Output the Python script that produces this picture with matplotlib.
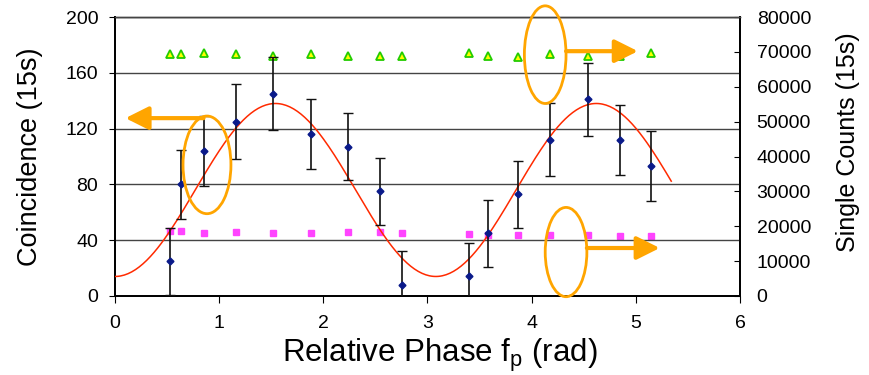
import numpy as np
import matplotlib.pyplot as plt
from matplotlib.patches import Ellipse

plt.rcParams['font.family'] = ['Liberation Sans', 'DejaVu Sans']

# Coincidence counts (left axis)
phase = [0.53, 0.63, 0.85, 1.16, 1.52, 1.88, 2.24, 2.54, 2.76,
         3.40, 3.58, 3.87, 4.18, 4.54, 4.85, 5.15]
coinc = [25, 80, 104, 125, 145, 116, 107, 75, 8,
         14, 45, 73, 112, 141, 112, 93]
coinc_err = [24, 25, 25, 27, 26, 25, 24, 24, 24,
             24, 24, 24, 26, 26, 25, 25]

# Single counts (right axis)
singles_a = [69400, 69400, 69800, 69400, 68900, 69400, 68900, 68900, 68900,
             69800, 68900, 68500, 69400, 68900, 68900, 69800]
singles_b = [18500, 18500, 18000, 18400, 18200, 18200, 18400, 18400, 18100,
             17700, 17500, 17400, 17400, 17400, 17300, 17300]

# fitted cosine: offset, amplitude, period (rad), phase of minimum
fit_offset, fit_amp, fit_period, fit_x0 = 76, 62, 3.08, 0.0
fit_xmax = 5.34

fig = plt.figure(figsize=(8.7, 3.75), dpi=100)
ax = fig.add_axes([115 / 870, 1 - 296 / 375, 625 / 870, 279 / 375])
ax2 = ax.twinx()

ax.set_xlim(0, 6)
ax.set_ylim(0, 200)
ax2.set_ylim(0, 80000)
ax.set_xticks(range(0, 7))
ax.set_yticks(range(0, 201, 40))
ax2.set_yticks(range(0, 80001, 10000))

ax.yaxis.grid(True, color='#444444', lw=1)
ax.set_axisbelow(True)

xf = np.linspace(0, fit_xmax, 300)
yf = fit_offset - fit_amp * np.cos(2 * np.pi * (xf - fit_x0) / fit_period)
ax.plot(xf, yf, color='#ff2a00', lw=1.1, zorder=3)

ax.errorbar(phase, coinc, yerr=coinc_err, fmt='D', color='#0a1a8a', ms=3.5,
            ecolor='#111111', elinewidth=1.2, capsize=3.5, capthick=1, zorder=4)

ax2.plot(phase, singles_a, '^', mfc='#ffff00', mec='#22cc00', mew=1.3, ms=5.5, ls='none')
ax2.plot(phase, singles_b, 's', color='#ff44ff', ms=4.5, ls='none')

orange = '#ffa500'
for cx, cy, w, h in [(0.883, 94, 0.46, 70), (4.13, 173, 0.40, 70), (4.33, 31.5, 0.40, 64)]:
    e = Ellipse((cx, cy), w, h, fill=False, ec=orange, lw=2, clip_on=False, zorder=6)
    ax.add_patch(e)

for x0, x1, yy in [(0.85, 0.10, 127.5), (4.33, 5.02, 175.5), (4.53, 5.23, 34.4)]:
    ax.annotate('', xy=(x1, yy), xytext=(x0, yy), annotation_clip=False, zorder=6,
                arrowprops=dict(arrowstyle='-|>,head_length=1.4,head_width=0.7',
                                color=orange, lw=3, shrinkA=0, shrinkB=0))

ax.set_zorder(ax2.get_zorder() + 1)
ax.patch.set_visible(False)

for a in (ax, ax2):
    for s in a.spines.values():
        s.set_color('black')
        s.set_linewidth(1.3)
    a.spines['top'].set_color('#444444')
    a.spines['top'].set_linewidth(1)
    a.tick_params(labelsize=14)

ax.tick_params(axis='y', direction='out', length=4, pad=8)
ax.tick_params(axis='x', direction='out', length=5, pad=9)
ax2.tick_params(axis='y', direction='in', length=4, pad=12)

ax.set_xlabel('Relative Phase f$_\\mathregular{p}$ (rad)', fontsize=22.5)
ax.xaxis.set_label_coords(325 / 625, -41 / 279)
ax.set_ylabel('Coincidence (15s)', fontsize=19.5)
ax.yaxis.set_label_coords(-72 / 625, 0.5)
ax2.set_ylabel('Single Counts (15s)', fontsize=18, rotation=90)
ax2.yaxis.set_label_coords(1 + 96 / 625, 0.55)

fig.savefig('out.png', dpi=100)
